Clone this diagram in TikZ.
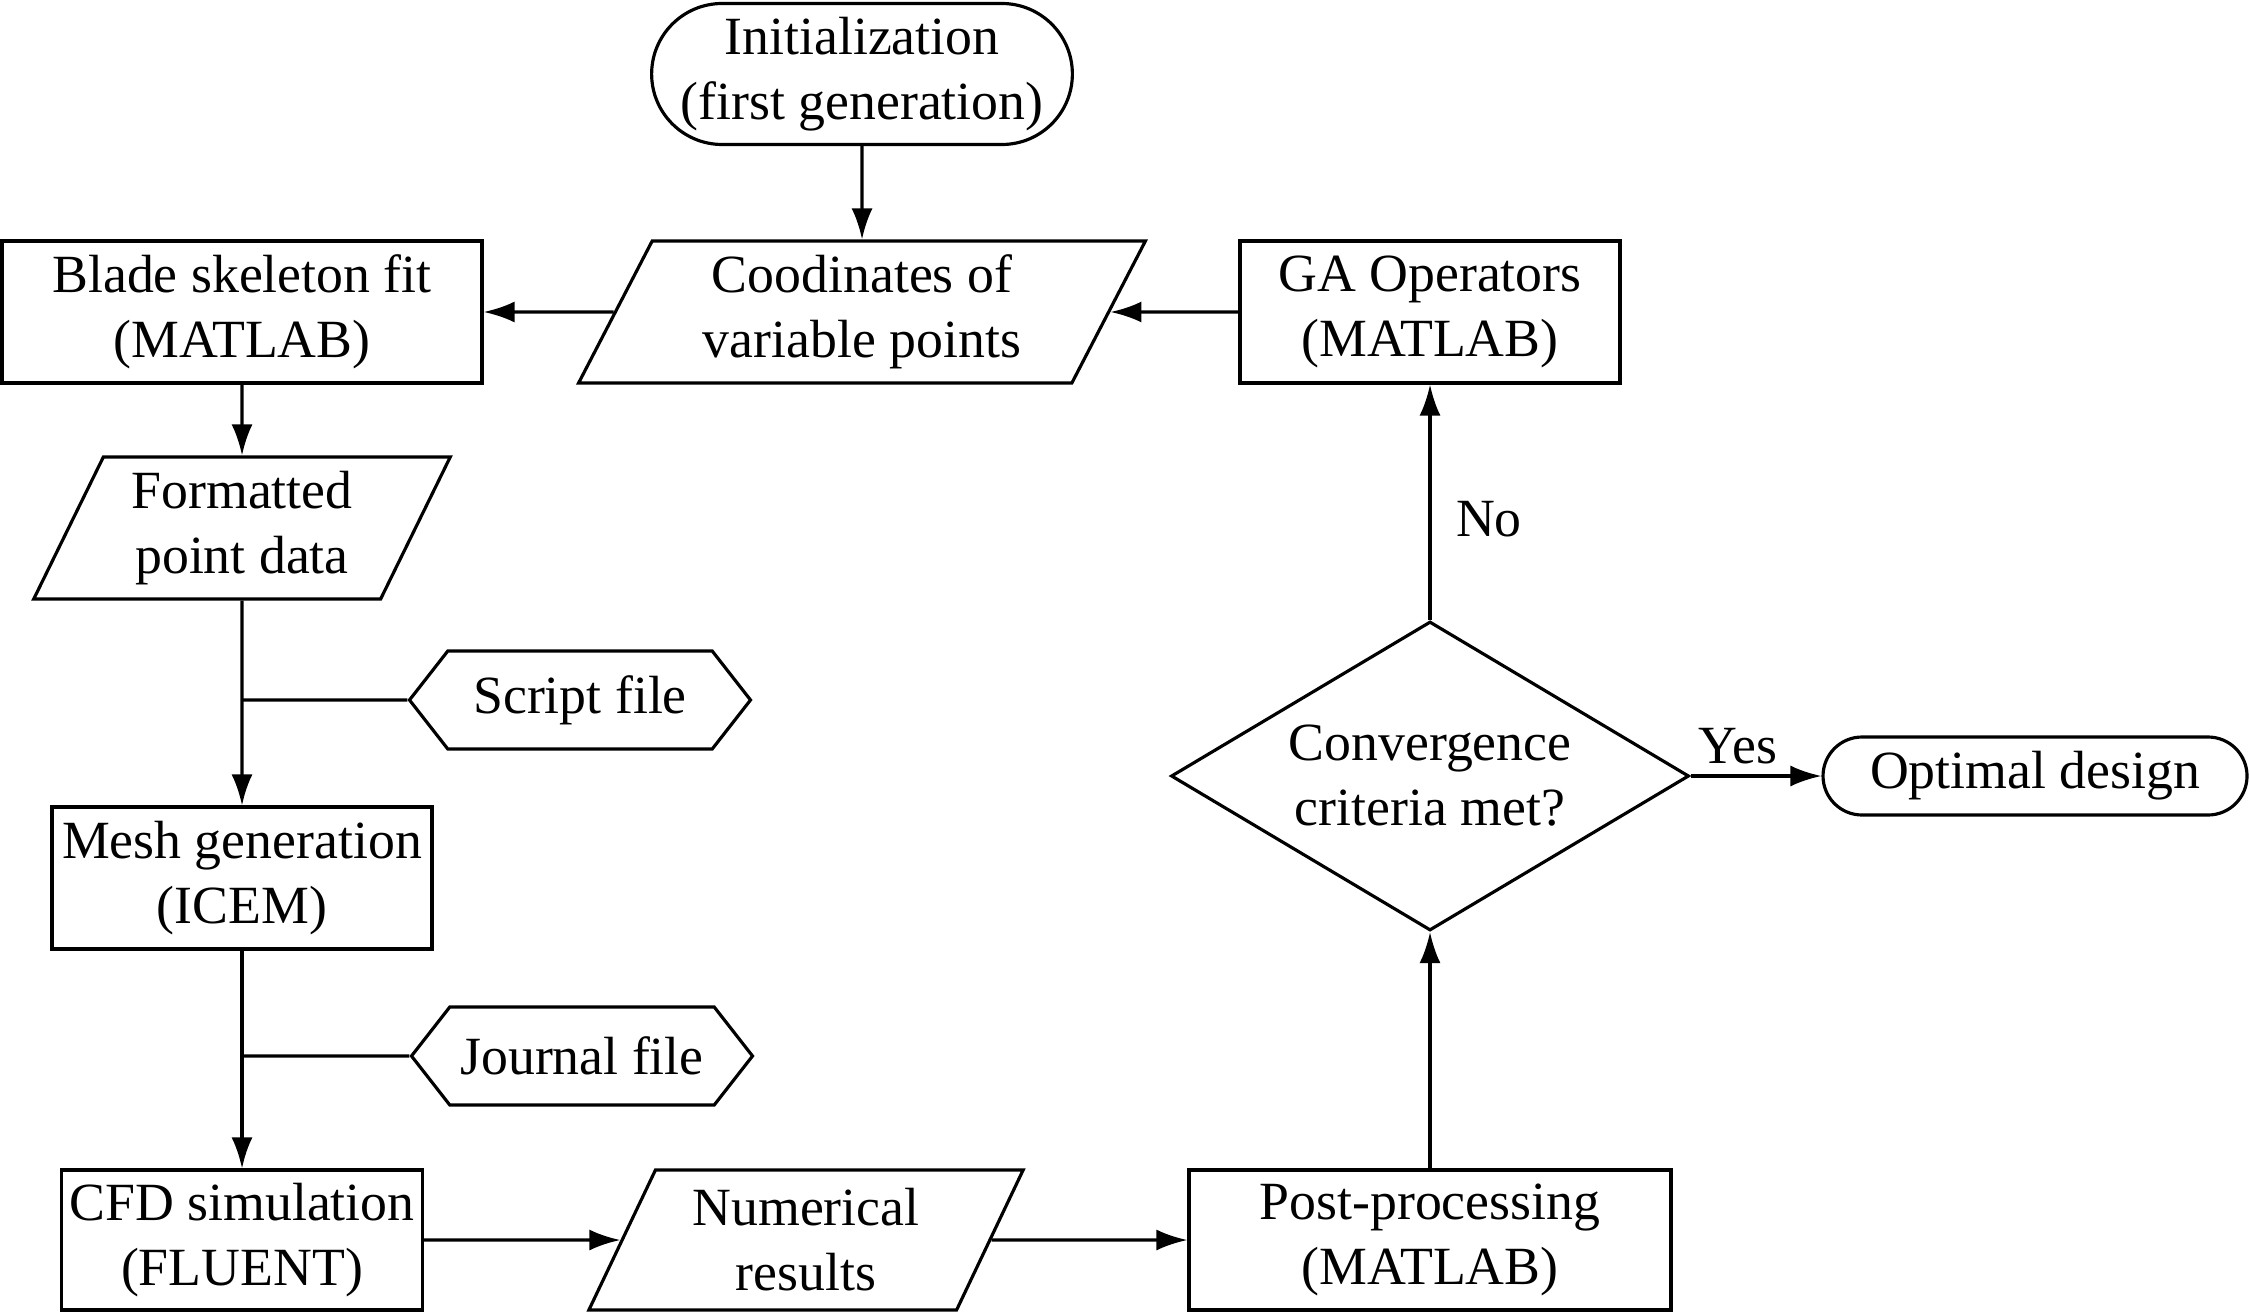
\documentclass[tikz,border=0pt]{standalone}
\usepackage{fontspec}
\setmainfont{Liberation Serif}
\usetikzlibrary{shapes.geometric,shapes.symbols,shapes.misc,arrows.meta,calc}

\begin{document}
\begin{tikzpicture}[line width=0.9pt,>={Latex[length=3.1mm,width=2.1mm]},
	every node/.style={font=\fontsize{15.3}{18.5}\selectfont,align=center,inner sep=0pt},
	proc/.style={draw,rectangle,minimum height=1.42cm},
	dataio/.style={draw,trapezium,trapezium left angle=64,trapezium right angle=116,trapezium stretches=true,minimum height=1.42cm},
	filebox/.style={draw,signal,signal to=west and east,signal pointer angle=104,minimum width=3.41cm,minimum height=0.98cm},
	terminal/.style={draw,rounded rectangle}]
		\useasboundingbox (0,0) rectangle (22.5,-13.11);
		\node[terminal,minimum width=4.16cm,minimum height=1.41cm] (init) at (8.62,-0.74) {Initialization\\(first generation)};
		\node[dataio,minimum width=5.67cm] (coord) at (8.62,-3.12) {Coodinates of\\variable points};
		\node[proc,minimum width=4.80cm] (blade) at (2.42,-3.12) {Blade skeleton fit\\(MATLAB)};
		\node[proc,minimum width=3.80cm] (ga) at (14.30,-3.12) {GA Operators\\(MATLAB)};
		\node[dataio,minimum width=4.20cm] (formatted) at (2.42,-5.28) {Formatted\\point data};
		\node[filebox] (script) at (5.80,-7.00) {Script file};
		\node[proc,minimum width=3.80cm] (mesh) at (2.42,-8.78) {Mesh generation\\(ICEM)};
		\node[filebox] (journal) at (5.82,-10.56) {Journal file};
		\node[proc,minimum width=3.61cm,minimum height=1.40cm] (cfd) at (2.42,-12.40) {CFD simulation\\(FLUENT)};
		\node[dataio,minimum width=4.36cm,minimum height=1.40cm] (numerical) at (8.06,-12.40) {Numerical\\results};
		\node[proc,minimum width=4.82cm,minimum height=1.40cm] (post) at (14.30,-12.40) {Post-processing\\(MATLAB)};
		\node[draw,diamond,aspect=1.68,minimum width=5.18cm,minimum height=3.09cm] (conv) at (14.30,-7.76) {Convergence\\criteria met?};
		\node[terminal,minimum width=4.24cm,minimum height=0.78cm] (optimal) at (20.35,-7.76) {Optimal design};
		\node (nolabel) at (14.89,-5.19) {No};
		\node (yeslabel) at (17.38,-7.46) {Yes};
		\draw[->] (init) -- (coord);
		\draw[->] (coord) -- (blade);
		\draw[->] (ga) -- (coord);
		\draw[->] (blade) -- (formatted);
		\draw[->] (formatted) -- (mesh);
		\draw (script) -- (script -| formatted);
		\draw[->] (mesh) -- (cfd);
		\draw (journal) -- (journal -| mesh);
		\draw[->] (cfd) -- (numerical);
		\draw[->] (numerical) -- (post);
		\draw[->] (post) -- (conv);
		\draw[->] (conv) -- (ga);
		\draw[->] (conv) -- (optimal);
	\end{tikzpicture}
\end{document}
